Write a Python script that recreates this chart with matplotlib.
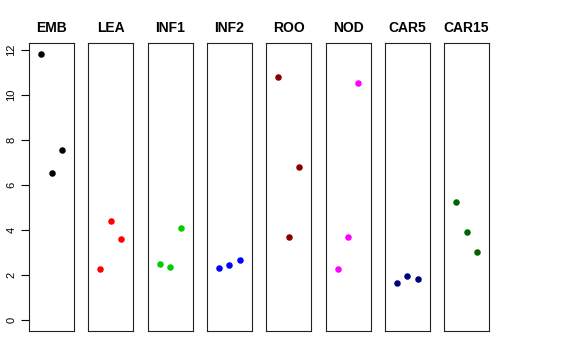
import matplotlib.pyplot as plt

plt.rcParams["font.family"] = ["Liberation Sans", "DejaVu Sans"]

tissues = ["EMB", "LEA", "INF1", "INF2", "ROO", "NOD", "CAR5", "CAR15"]
colors = ["black", "red", "#00CD00", "blue", "#8B0000", "magenta", "#000080", "#006400"]
reps = [1, 2, 3]
values = [
    [11.84, 6.52, 7.57],
    [2.28, 4.40, 3.63],
    [2.50, 2.36, 4.10],
    [2.31, 2.47, 2.68],
    [10.79, 3.70, 6.79],
    [2.30, 3.69, 10.53],
    [1.66, 1.96, 1.84],
    [5.27, 3.93, 3.02],
]

W, H = 576, 360
fig = plt.figure(figsize=(W / 100, H / 100), dpi=100)

ymax = max(max(v) for v in values)
ypad = ymax * 0.04
left0, step, width = 29, 59.3, 45
top, bottom = 43, 331

for i, (name, col, vals) in enumerate(zip(tissues, colors, values)):
    x0 = left0 + i * step
    ax = fig.add_axes([x0 / W, (H - bottom) / H, width / W, (bottom - top) / H])
    ax.scatter(reps, vals, color=col, s=22, zorder=3, linewidths=0)
    ax.set_xlim(-0.16, 4.16)
    ax.set_ylim(-ypad, ymax + ypad)
    ax.set_xticks([])
    for s in ax.spines.values():
        s.set_linewidth(0.8)
        s.set_color("#222222")
    ax.set_title(name, fontsize=10, fontweight="bold", pad=8)
    if i == 0:
        ax.set_yticks(range(0, 13, 2))
        ax.tick_params(axis="y", length=6, width=0.8, labelsize=8, pad=3)
        for lab in ax.get_yticklabels():
            lab.set_rotation(90)
            lab.set_va("center")
    else:
        ax.set_yticks([])

fig.savefig("out.png", dpi=100)
